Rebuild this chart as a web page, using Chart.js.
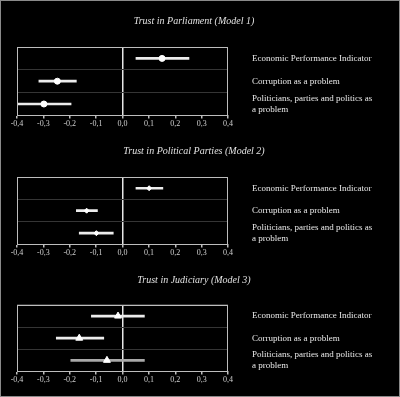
<!DOCTYPE html>
<html>
<head>
<meta charset="utf-8">
<script src="https://cdn.jsdelivr.net/npm/chart.js@4.4.1/dist/chart.umd.min.js"></script>
<style>
  html, body { margin: 0; padding: 0; background: #000; }
  #frame { position: absolute; left: 0; top: 0; width: 400px; height: 397px; box-sizing: border-box; border: 1px solid #8a8a8a; background: #000; }
  canvas { position: absolute; left: 0; }
  .ptitle { position: absolute; left: 0; width: 388px; text-align: center; font-family: 'Liberation Serif', serif; font-style: italic; font-size: 10px; line-height: 12px; color: #e0e0e0; white-space: nowrap; will-change: transform; transform: translateZ(0); -webkit-font-smoothing: antialiased; }
</style>
</head>
<body>
<div id="frame"></div>
<div class="ptitle" id="t1" style="top:15px"></div>
<div class="ptitle" id="t2" style="top:145px"></div>
<div class="ptitle" id="t3" style="top:274px"></div>
<canvas id="c1" width="400" height="130" style="top:0px"></canvas>
<canvas id="c2" width="400" height="129" style="top:130px"></canvas>
<canvas id="c3" width="400" height="126" style="top:260px"></canvas>
<script>
// ---- data ----
const categories = ['Economic Performance Indicator', 'Corruption as a problem', ['Politicians, parties and politics as', 'a problem']];
const tickLabels = ['-0,4', '-0,3', '-0,2', '-0,1', '0,0', '0,1', '0,2', '0,3', '0,4'];
const panelTitles = ['Trust in Parliament (Model 1)', 'Trust in Political Parties (Model 2)', 'Trust in Judiciary (Model 3)'];

const parliamentEst  = [0.150, -0.247, -0.298];
const parliamentLow  = [0.051, -0.317, -0.400];
const parliamentHigh = [0.252, -0.175, -0.195];

const partiesEst  = [0.101, -0.136, -0.099];
const partiesLow  = [0.051, -0.175, -0.164];
const partiesHigh = [0.153, -0.095, -0.035];

const judiciaryEst  = [-0.017, -0.164, -0.059];
const judiciaryLow  = [-0.118, -0.251, -0.196];
const judiciaryHigh = [0.083, -0.071, 0.083];

// ---- drawing ----
const FONT = 'Liberation Serif';
const framePlugin = {
  id: 'frameBox',
  afterDraw(chart) {
    const a = chart.chartArea, ctx = chart.ctx;
    ctx.save();
    ctx.strokeStyle = '#bdbdbd';
    ctx.lineWidth = 1;
    ctx.strokeRect(Math.round(a.left) + 0.5, Math.round(a.top) + 0.5, Math.round(a.right - a.left) - 1, Math.round(a.bottom - a.top));
    ctx.restore();
  }
};

function makePanel(id, titleId, title, est, low, high, pointStyle, radius, barColors, topPad) {
  document.getElementById(titleId).textContent = title;
  const ranges = low.map((l, i) => [l, high[i]]);
  new Chart(document.getElementById(id), {
    type: 'bar',
    data: {
      labels: categories,
      datasets: [
        {
          type: 'bar',
          data: ranges,
          backgroundColor: barColors,
          borderWidth: 0,
          barThickness: 2,
          grouped: false,
          order: 2
        },
        {
          type: 'line',
          data: est,
          showLine: false,
          pointStyle: pointStyle,
          pointRadius: radius,
          pointBackgroundColor: '#ffffff',
          pointBorderColor: '#ffffff',
          pointBorderWidth: 1,
          order: 1
        }
      ]
    },
    options: {
      indexAxis: 'y',
      responsive: false,
      animation: false,
      devicePixelRatio: 1,
      layout: { padding: { left: 17, right: 0, top: topPad, bottom: 0 } },
      plugins: {
        legend: { display: false },
        tooltip: { enabled: false },
        title: { display: false }
      },
      scales: {
        x: {
          type: 'linear',
          min: -0.4, max: 0.4,
          ticks: {
            stepSize: 0.1,
            color: '#cfcfcf',
            font: { family: FONT, size: 8 },
            padding: 1,
            maxRotation: 0,
            autoSkip: false,
            callback: (v, i) => tickLabels[i]
          },
          grid: {
            color: ctx => (ctx.tick && Math.abs(ctx.tick.value) < 1e-9) ? '#e6e6e6' : 'rgba(0,0,0,0)',
            lineWidth: 1.5,
            tickColor: '#bdbdbd',
            tickLength: 3,
            drawTicks: true
          },
          border: { display: true, color: '#bdbdbd', width: 1 }
        },
        y: {
          type: 'category',
          position: 'right',
          offset: true,
          ticks: {
            color: '#e8e8e8',
            font: { family: FONT, size: 9 },
            padding: 24,
            crossAlign: 'near',
            autoSkip: false
          },
          grid: { color: '#353535', offset: true, drawTicks: false, lineWidth: 1 },
          border: { display: false },
          afterFit: s => { s.width = 172; s.paddingTop = 0; s.paddingBottom = 0; }
        }
      }
    },
    plugins: [framePlugin]
  });
}

makePanel('c1', 't1', panelTitles[0], parliamentEst, parliamentLow, parliamentHigh, 'circle', 3, ['#ececec', '#ececec', '#ececec'], 47);
makePanel('c2', 't2', panelTitles[1], partiesEst, partiesLow, partiesHigh, 'rectRot', 2.5, ['#ececec', '#ececec', '#ececec'], 47);
makePanel('c3', 't3', panelTitles[2], judiciaryEst, judiciaryLow, judiciaryHigh, 'triangle', 4, ['#ececec', '#ececec', '#a8a8a8'], 45);
</script>
</body>
</html>
